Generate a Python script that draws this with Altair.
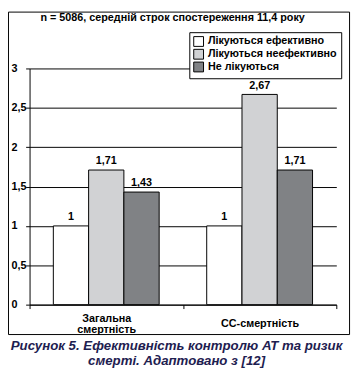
import altair as alt
import pandas as pd

categories = ["Загальна смертність", "СС-смертність"]
series = ["Лікуються ефективно", "Лікуються неефективно", "Не лікуються"]
val_effective = [1, 1]
val_ineffective = [1.71, 2.67]
val_untreated = [1.43, 1.71]
colors = ["#ffffff", "#d1d2d4", "#808285"]
y_ticks = [0, 0.5, 1, 1.5, 2, 2.5, 3]
title_text = "n = 5086, середній строк спостереження 11,4 року"
caption_text = "Рисунок 5. Ефективність контролю АТ та ризик\nсмерті. Адаптовано з [12]"

rows = []
for s, vals in zip(series, [val_effective, val_ineffective, val_untreated]):
    for c, v in zip(categories, vals):
        rows.append({"cat": c, "series": s, "value": v,
                     "label": ("%g" % v).replace(".", ",")})
df = pd.DataFrame(rows)

FONT = "Liberation Sans"
W, H = 313, 241

base = alt.Chart(df).encode(
    x=alt.X("cat:N", sort=categories, title=None,
            scale=alt.Scale(paddingInner=0, paddingOuter=0),
            axis=alt.Axis(labelAngle=0, tickBand="extent", labelExpr="split(datum.label, ' ')",
                          labelBaseline="middle", labelLineHeight=11,
                          labelPadding={"condition": {"test": "indexof(datum.label, ' ') < 0",
                                                      "value": 15},
                                        "value": 10},
                          grid=False)),
    xOffset=alt.XOffset("series:N", sort=series,
                        scale=alt.Scale(paddingInner=0, paddingOuter=0.674)),
)

bars = base.mark_bar(stroke="black", strokeWidth=1).encode(
    y=alt.Y("value:Q", title=None, scale=alt.Scale(domain=[0, 3]),
            axis=alt.Axis(values=y_ticks, labelAlign="left", labelPadding=15,
                          labelBaseline="middle",
                          labelExpr="replace(format(datum.value, ''), '.', ',')")),
    color=alt.Color("series:N", sort=series, title=None,
                    scale=alt.Scale(domain=series, range=colors),
                    legend=alt.Legend(orient="none", legendX=163, legendY=-37,
                                      strokeColor="black", fillColor="white",
                                      padding=4, symbolType="square", symbolSize=100,
                                      symbolStrokeColor="black", symbolStrokeWidth=1,
                                      symbolOpacity=1, labelFont=FONT, labelFontSize=11,
                                      labelFontWeight="bold", labelColor="black",
                                      labelOffset=4, rowPadding=-3)),
)

value_text = base.mark_text(dy=-9, baseline="middle", font=FONT, fontSize=11,
                            fontWeight="bold", color="black").encode(
    y=alt.Y("value:Q"),
    text="label:N",
)

one = pd.DataFrame({"k": [0]})
border = alt.Chart(one).mark_rect(fill=None, stroke="black", strokeWidth=1).encode(
    x=alt.value(-21.5), x2=alt.value(326.5), y=alt.value(-57.5), y2=alt.value(271.5))

title = alt.Chart(one).mark_text(font=FONT, fontSize=11, fontWeight="bold",
                                 color="black", align="center", baseline="middle").encode(
    x=alt.value(146), y=alt.value(-51), text=alt.value(title_text))

caption = alt.Chart(one).mark_text(font=FONT, fontSize=13.5, fontWeight="bold",
                                   fontStyle="italic", color="#1e2050",
                                   lineBreak="\n", lineHeight=16,
                                   align="center", baseline="middle").encode(
    x=alt.value(150), y=alt.value(283), text=alt.value(caption_text))

chart = alt.layer(border, bars, value_text, title, caption).properties(
    width=W, height=H,
    padding={"left": 22, "top": 58, "right": 16, "bottom": 63},
    autosize=alt.AutoSizeParams(type="none"),
    background="white",
).configure_view(stroke=None).configure_axis(
    domainColor="black", tickColor="black", gridColor="black", gridWidth=1,
    gridOpacity=1, tickSize=4, labelFont=FONT, labelFontSize=11,
    labelFontWeight="bold", labelColor="black", domainWidth=1,
)

chart.save("out.html", embed_options={"renderer": "svg", "actions": False})
